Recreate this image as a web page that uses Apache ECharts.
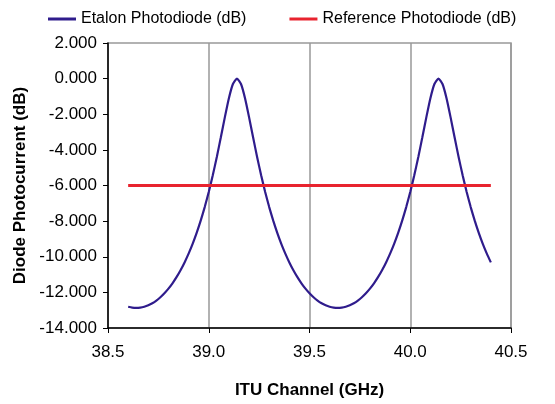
<!DOCTYPE html>
<html>
<head>
<meta charset="utf-8">
<script src="https://cdn.jsdelivr.net/npm/echarts@6/dist/echarts.min.js"></script>
<style>
    html, body { margin: 0; padding: 0; background: #fff; }
    #chart { width: 555px; height: 404px; }
</style>
</head>
<body>
<div id="chart"></div>
<script>
    // frequencies (GHz), 0.02 GHz steps from 38.60 to 40.40
    const freqGHz = [
        38.60, 38.62, 38.64, 38.66, 38.68, 38.70, 38.72, 38.74, 38.76, 38.78,
        38.80, 38.82, 38.84, 38.86, 38.88, 38.90, 38.92, 38.94, 38.96, 38.98,
        39.00, 39.02, 39.04, 39.06, 39.08, 39.10, 39.12, 39.14, 39.16, 39.18,
        39.20, 39.22, 39.24, 39.26, 39.28, 39.30, 39.32, 39.34, 39.36, 39.38,
        39.40, 39.42, 39.44, 39.46, 39.48, 39.50, 39.52, 39.54, 39.56, 39.58,
        39.60, 39.62, 39.64, 39.66, 39.68, 39.70, 39.72, 39.74, 39.76, 39.78,
        39.80, 39.82, 39.84, 39.86, 39.88, 39.90, 39.92, 39.94, 39.96, 39.98,
        40.00, 40.02, 40.04, 40.06, 40.08, 40.10, 40.12, 40.14, 40.16, 40.18,
        40.20, 40.22, 40.24, 40.26, 40.28, 40.30, 40.32, 40.34, 40.36, 40.38,
        40.40
    ];
    const etalonDb = [
        -12.804, -12.853, -12.869, -12.853, -12.804, -12.722, -12.607, -12.457, -12.272, -12.050,
        -11.789, -11.489, -11.145, -10.755, -10.317, -9.824, -9.274, -8.659, -7.974, -7.211,
        -6.363, -5.426, -4.399, -3.295, -2.161, -1.100, -0.304, 0.000, -0.304, -1.100,
        -2.161, -3.295, -4.399, -5.426, -6.363, -7.211, -7.974, -8.659, -9.274, -9.824,
        -10.317, -10.755, -11.145, -11.489, -11.789, -12.050, -12.272, -12.457, -12.607, -12.722,
        -12.804, -12.853, -12.869, -12.853, -12.804, -12.722, -12.607, -12.457, -12.272, -12.050,
        -11.789, -11.489, -11.145, -10.755, -10.317, -9.824, -9.274, -8.659, -7.974, -7.211,
        -6.363, -5.426, -4.399, -3.295, -2.161, -1.100, -0.304, 0.000, -0.304, -1.100,
        -2.161, -3.295, -4.399, -5.426, -6.363, -7.211, -7.974, -8.659, -9.274, -9.824,
        -10.317
    ];
    const refFreqGHz = [38.60, 40.40];
    const refDb = [-6.0, -6.0];

    const xTicks = { min: 38.5, max: 40.5, step: 0.5 };
    const yTicks = { min: -14, max: 2, step: 2 };

    const chart = echarts.init(document.getElementById('chart'));
    const font = 'Liberation Sans, Arial, sans-serif';

    chart.setOption({
        animation: false,
        textStyle: { fontFamily: font },
        legend: {
            left: 43,
            top: 6,
            icon: 'rect',
            itemWidth: 28,
            itemHeight: 3,
            itemGap: 43,
            textStyle: { fontSize: 16, color: '#000', fontFamily: font },
            data: ['Etalon Photodiode (dB)', 'Reference Photodiode (dB)']
        },
        grid: {
            left: 108,
            right: 44,
            top: 43,
            bottom: 76,
            show: true,
            borderColor: '#999',
            borderWidth: 1.5
        },
        xAxis: {
            type: 'value',
            min: xTicks.min,
            max: xTicks.max,
            interval: xTicks.step,
            name: 'ITU Channel (GHz)',
            nameLocation: 'middle',
            nameGap: 54,
            nameTextStyle: { fontSize: 17, fontWeight: 'bold', color: '#000', fontFamily: font },
            axisLine: { onZero: false, lineStyle: { color: '#000', width: 1.5 } },
            axisTick: { show: true, length: 5, lineStyle: { color: '#000' } },
            axisLabel: {
                fontSize: 17, color: '#000', margin: 16,
                formatter: v => v.toFixed(1)
            },
            splitLine: { show: true, lineStyle: { color: '#999', width: 1.5 } }
        },
        yAxis: {
            type: 'value',
            min: yTicks.min,
            max: yTicks.max,
            interval: yTicks.step,
            name: 'Diode Photocurrent (dB)',
            nameLocation: 'middle',
            nameGap: 79,
            nameTextStyle: { fontSize: 17, fontWeight: 'bold', color: '#000', fontFamily: font },
            axisLine: { show: true, onZero: false, lineStyle: { color: '#000', width: 1.5 } },
            axisTick: { show: true, length: 5, lineStyle: { color: '#000' } },
            axisLabel: {
                fontSize: 17, color: '#000', margin: 11,
                formatter: v => v.toFixed(3)
            },
            splitLine: { show: false }
        },
        series: [
            {
                name: 'Etalon Photodiode (dB)',
                type: 'line',
                showSymbol: false,
                smooth: 0.2,
                data: freqGHz.map((f, i) => [f, etalonDb[i]]),
                lineStyle: { color: '#2f1c8c', width: 2.2 },
                itemStyle: { color: '#2f1c8c' }
            },
            {
                name: 'Reference Photodiode (dB)',
                type: 'line',
                showSymbol: false,
                data: refFreqGHz.map((f, i) => [f, refDb[i]]),
                lineStyle: { color: '#e8232e', width: 3 },
                itemStyle: { color: '#e8232e' }
            }
        ]
    });
</script>
</body>
</html>
